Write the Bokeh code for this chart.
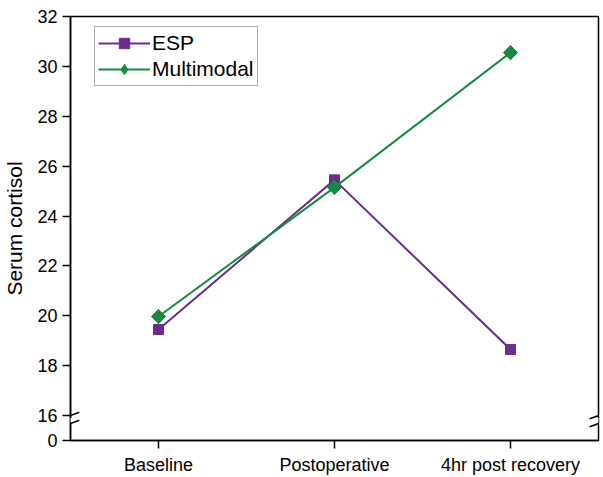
import math
from bokeh.plotting import figure
from bokeh.models import (FactorRange, Range1d, FixedTicker, Legend, LegendItem,
                          Arrow)
from bokeh.embed import file_html
from bokeh.resources import INLINE

categories = ["Baseline", "Postoperative", "4hr post recovery"]
esp = [19.45, 25.45, 18.65]
multimodal = [19.97, 25.15, 30.55]
y_ticks = [15, 16, 18, 20, 22, 24, 26, 28, 30, 32]
y_tick_labels = {15: "0"}

ESP_COLOR = "#6B2C8E"
MM_COLOR = "#168A41"
FONT = "Liberation Sans"

p = figure(width=603, height=477, x_range=FactorRange(*categories),
           y_range=Range1d(15, 32), output_backend="svg", toolbar_location=None,
           min_border_left=68, min_border_right=5, min_border_top=16, min_border_bottom=36)
p.xgrid.visible = False
p.ygrid.visible = False
p.outline_line_color = "black"
p.outline_line_width = 1.5
p.background_fill_color = "white"
p.border_fill_color = "white"

l1 = p.line(categories, esp, color=ESP_COLOR, line_width=2)
s1 = p.scatter(categories, esp, marker="square", size=10, color=ESP_COLOR)
l2 = p.line(categories, multimodal, color=MM_COLOR, line_width=2)
# diamond used for the legend glyph (fully covered by the rotated square below)
s2_leg = p.scatter(categories, multimodal, marker="diamond", size=14, color=MM_COLOR)
s2 = p.scatter(categories, multimodal, marker="square", size=10, angle=math.pi / 4,
               color=MM_COLOR)

for ax in (p.xaxis[0], p.yaxis[0]):
    ax.axis_line_width = 1.5
    ax.major_tick_line_width = 1.5
    ax.major_tick_out = 8
    ax.major_tick_in = 0
    ax.minor_tick_out = 0
    ax.minor_tick_in = 0
    ax.major_label_text_font = FONT
    ax.major_label_text_font_size = "18px"
    ax.major_label_text_color = "black"
    ax.axis_line_color = "black"
    ax.major_tick_line_color = "black"

p.yaxis.ticker = FixedTicker(ticks=y_ticks)
p.yaxis.major_label_overrides = {k: v for k, v in y_tick_labels.items()}
p.yaxis.major_label_standoff = 5
p.xaxis.major_label_standoff = 6
p.yaxis.axis_label = "Serum cortisol"
p.yaxis.axis_label_text_font = FONT
p.yaxis.axis_label_text_font_size = "21px"
p.yaxis.axis_label_text_font_style = "normal"
p.yaxis.axis_label_text_color = "black"
p.yaxis.axis_label_standoff = 8

# axis break marks (decoration)
for xe in (0.0, 3.0):
    p.add_layout(Arrow(end=None, x_start=xe, y_start=15.72, x_end=xe, y_end=15.9,
                       line_color="white", line_width=5))
    for yc in (16.0, 15.68):
        p.add_layout(Arrow(end=None, x_start=xe - 0.05, y_start=yc - 0.13,
                           x_end=xe + 0.05, y_end=yc + 0.13,
                           line_color="black", line_width=1.5))

legend = Legend(items=[LegendItem(label="ESP", renderers=[l1, s1]),
                       LegendItem(label="Multimodal", renderers=[l2, s2_leg])],
                location=(24, 354))
legend.label_text_font = FONT
legend.label_text_font_size = "21px"
legend.label_text_color = "black"
legend.glyph_width = 52
legend.glyph_height = 26
legend.label_standoff = 2
legend.spacing = 0
legend.padding = 3
legend.margin = 0
legend.border_line_color = "#555555"
legend.border_line_width = 1
legend.label_height = 26
p.add_layout(legend)

open("out.html", "w").write(file_html(p, INLINE))
